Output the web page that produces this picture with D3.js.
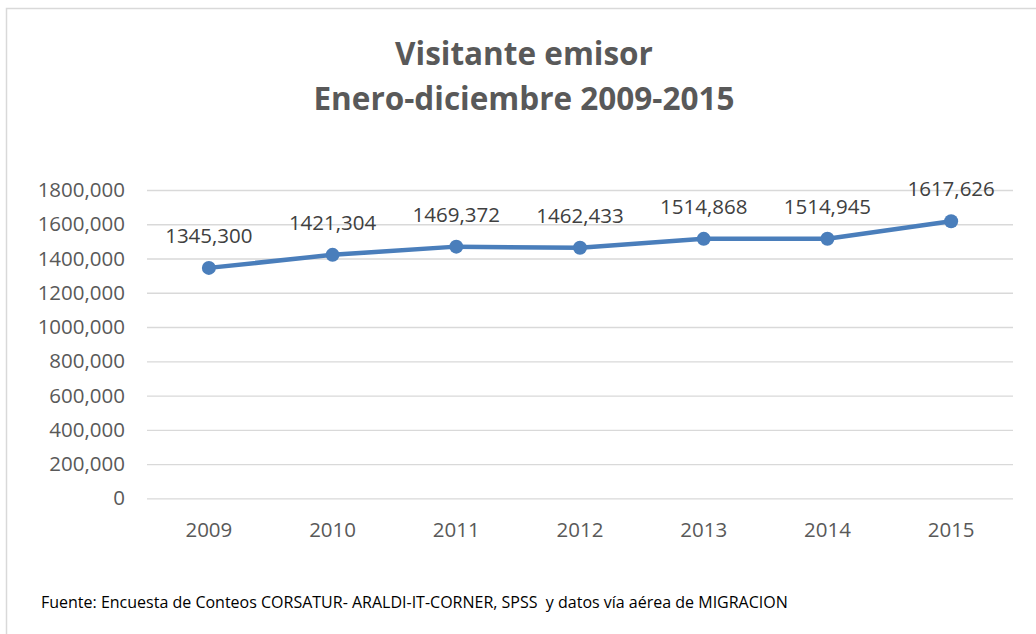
<!DOCTYPE html>
<html><head><meta charset="utf-8">
<script src="https://cdn.jsdelivr.net/npm/d3@7"></script>
<style>
html,body{margin:0;padding:0;background:#fff;}
svg{display:block;}
</style></head>
<body>
<svg id="chart" width="1036" height="634"></svg>
<script>
const titleLines = ["Visitante emisor", "Enero-diciembre 2009-2015"];
const years = ["2009", "2010", "2011", "2012", "2013", "2014", "2015"];
const visitors = [1345300, 1421304, 1469372, 1462433, 1514868, 1514945, 1617626];
const yTicks = [0, 200000, 400000, 600000, 800000, 1000000, 1200000, 1400000, 1600000, 1800000];
const sourceNote = "Fuente: Encuesta de Conteos CORSATUR- ARALDI-IT-CORNER, SPSS  y datos vía aérea de MIGRACION";

const fmt = v => v === 0 ? "0" : Math.floor(v / 1000) + "," + String(v % 1000).padStart(3, "0");

const svg = d3.select("#chart");
const font = "'Open Sans', sans-serif";

// frame
svg.append("rect").attr("x", 6.5).attr("y", 8.5).attr("width", 1040).attr("height", 640)
  .attr("fill", "#fff").attr("stroke", "#d9d9d9").attr("stroke-width", 1.5);

const m = {left: 147, right: 1013, top: 190, bottom: 498.3};
const x = d3.scaleBand().domain(years).range([m.left, m.right]).padding(0);
const y = d3.scaleLinear().domain([0, 1800000]).range([m.bottom, m.top]);

// title
svg.append("text").attr("x", 524).attr("text-anchor", "middle")
  .attr("font-family", font).attr("font-weight", "bold").attr("font-size", 31.5).attr("fill", "#595959")
  .selectAll("tspan").data(titleLines).join("tspan")
  .attr("x", 524).attr("y", (d, i) => 65 + i * 45).text(d => d);

// y axis with gridlines
const yAxis = d3.axisLeft(y).tickValues(yTicks).tickFormat(fmt).tickSize(-(m.right - m.left)).tickPadding(22);
const gy = svg.append("g").attr("transform", `translate(${m.left},0)`).call(yAxis);
gy.select(".domain").remove();
gy.selectAll(".tick line").attr("stroke", "#d9d9d9").attr("stroke-width", 1.3);
gy.selectAll(".tick text").attr("font-family", font).attr("font-size", 20.5).attr("fill", "#595959");

// x axis
const xAxis = d3.axisBottom(x).tickSize(0).tickPadding(24);
const gx = svg.append("g").attr("transform", `translate(0,${m.bottom})`).call(xAxis);
gx.select(".domain").remove();
gx.selectAll(".tick text").attr("font-family", font).attr("font-size", 20.5).attr("fill", "#595959");

const cx = d => x(d) + x.bandwidth() / 2;
const pts = years.map((yr, i) => ({yr, v: visitors[i]}));

// line
svg.append("path").datum(pts)
  .attr("d", d3.line().x(d => cx(d.yr)).y(d => y(d.v)))
  .attr("fill", "none").attr("stroke", "#4a7ebb").attr("stroke-width", 4.5).attr("stroke-linejoin", "round");

svg.selectAll("circle.pt").data(pts).join("circle").attr("class", "pt")
  .attr("cx", d => cx(d.yr)).attr("cy", d => y(d.v)).attr("r", 7)
  .attr("fill", "#4a7ebb");

// data labels
svg.selectAll("text.lbl").data(pts).join("text").attr("class", "lbl")
  .attr("x", d => cx(d.yr)).attr("y", d => y(d.v) - 25)
  .attr("text-anchor", "middle").attr("font-family", font).attr("font-size", 20.5).attr("fill", "#404040")
  .text(d => fmt(d.v));

// source
svg.append("text").attr("x", 41).attr("y", 608).attr("font-family", font).attr("font-size", 16)
  .attr("fill", "#000").style("white-space", "pre").text(sourceNote);
</script>
</body></html>
